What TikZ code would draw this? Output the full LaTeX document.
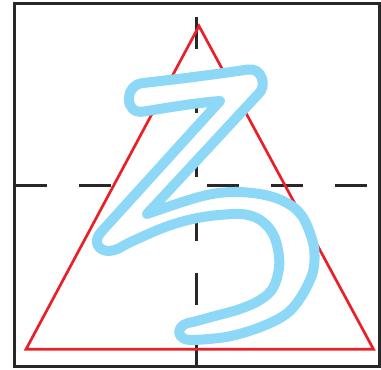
\documentclass[tikz,border=0pt]{standalone}
\usepackage{tikz}
\definecolor{glyphblue}{RGB}{142,216,247}
\definecolor{guidered}{RGB}{233,32,40}
\definecolor{framegray}{RGB}{40,40,40}

\begin{document}
\begin{tikzpicture}[
	x=0.02cm, y=-0.02cm,
	frame/.style={draw=framegray, line width=0.054cm},
	guide/.style={draw=framegray, line width=0.054cm, dash pattern=on 0.64cm off 0.64cm},
	triangle/.style={draw=guidered, line width=0.054cm, line join=miter},
	glyph/.style={draw=glyphblue, fill=white, line width=0.2cm, line join=round}
]
\useasboundingbox (0,0) rectangle (381,369);

% Frame and centre guides
\draw[frame] (14.7,3.5) rectangle (379.5,366.8);
\coordinate (hl) at (15,185.3);
\coordinate (hr) at (379.5,185.3);
\coordinate (vt) at (196.7,17);
\coordinate (vb) at (196.7,366.8);
\draw[guide] (hl) -- (hr);
\draw[guide] (vt) -- (vb);

% Red triangle
\coordinate (apex) at (199,26);
\coordinate (left) at (26,349.3);
\coordinate (right) at (373.5,349.3);
\draw[triangle] (apex) -- (left) -- (right) -- cycle;

% Outlined ro
\filldraw[glyph] (143,83)
	.. controls (180,79) and (225,73) .. (248,69.5)
	.. controls (262,67) and (268,87) .. (257.4,95)
	-- (147,214)
	-- plot[smooth, tension=0.6] coordinates {(147,214) (200,196.7) (233,192) (265,195) (287,203) (302,216) (311.7,238) (314.5,255) (312,275) (299,300) (284,315.5) (258,328) (226,337) (193,340)}
	.. controls (175,341) and (174,324) .. (193,322)
	-- plot[smooth, tension=0.6] coordinates {(193,322) (215,316) (240,309) (260,300) (273,288) (279,268) (278,250) (273,234) (263,222) (250,215.5) (233,214) (200,217.5) (168,226) (135,240) (123,246)}
	.. controls (105,258) and (88,246) .. (102,231)
	-- (220,101)
	.. controls (195,103) and (165,108) .. (143,111.7)
	.. controls (124,114) and (124,85) .. cycle;

\end{tikzpicture}
\end{document}
